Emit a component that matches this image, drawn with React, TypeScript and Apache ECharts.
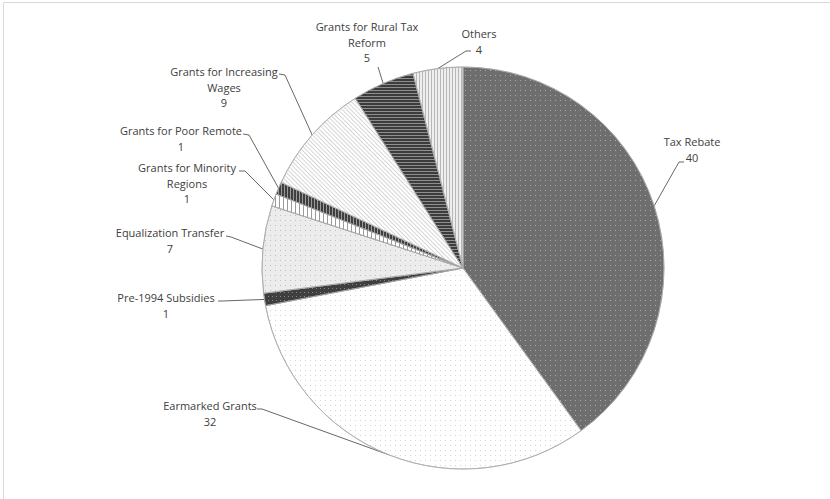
import React, { useEffect, useRef } from "react";
import * as echarts from "echarts";

const categories = [
  "Tax Rebate",
  "Earmarked Grants",
  "Pre-1994 Subsidies",
  "Equalization Transfer",
  "Grants for Minority Regions",
  "Grants for Poor Remote",
  "Grants for Increasing Wages",
  "Grants for Rural Tax Reform",
  "Others",
];
const labelTexts = [
  "Tax Rebate",
  "Earmarked Grants",
  "Pre-1994 Subsidies",
  "Equalization Transfer",
  "Grants for Minority\nRegions",
  "Grants for Poor Remote",
  "Grants for Increasing\nWages",
  "Grants for Rural Tax\nReform",
  "Others",
];
const values = [40, 32, 1, 7, 1, 1, 9, 5, 4];

// label layout: [centerX, topY] and leader line ends [[bendX, bendY], [endX, endY]]
const labelPos = [
  [692, 134],
  [210, 398],
  [166, 290],
  [170, 225],
  [187, 160],
  [181, 123],
  [224, 64],
  [367, 19],
  [479, 26],
];
const leaderEnds = [
  [[679, 162], [684, 162]],
  [[262, 409], [257, 409]],
  [[222, 301], [218, 301]],
  [[231, 237], [226, 236]],
  [[245, 171], [239, 171]],
  [[249, 135], [243, 134]],
  [[285, 75], [279, 74]],
  [[378, 67], [378, 67]],
  [[466, 51], [471, 51]],
];

const dots = (bg: string, fg: string, gap = 4) => ({
  color: bg,
  decal: {
    symbol: "rect",
    symbolSize: 1,
    color: fg,
    dashArrayX: [1, gap],
    dashArrayY: [1, gap],
    rotation: 0,
  },
});
const lines = (bg: string, fg: string, w: number, gap: number, rot: number) => ({
  color: bg,
  decal: {
    symbol: "rect",
    symbolSize: 1,
    color: fg,
    dashArrayX: [1, 0],
    dashArrayY: [w, gap],
    rotation: rot,
  },
});

const styles = [
  dots("#6e6e6e", "#a8a8a8", 4),
  dots("#ffffff", "#d4d4d4", 4),
  dots("#3f3f3f", "#858585", 3),
  dots("#ececec", "#bdbdbd", 4),
  lines("#ffffff", "#9a9a9a", 1, 3, Math.PI / 2),
  lines("#3f3f3f", "#9a9a9a", 1, 2, Math.PI / 2),
  lines("#ffffff", "#d6d6d6", 1, 2, Math.PI / 4),
  lines("#3c3c3c", "#8e8e8e", 1, 2, 0),
  lines("#eeeeee", "#b8b8b8", 1, 2, Math.PI / 2),
];

export default function App() {
  const ref = useRef<HTMLDivElement>(null);
  useEffect(() => {
    if (!ref.current) return;
    const chart = echarts.init(ref.current, undefined, { renderer: "svg" });
    chart.setOption({
      animation: false,
      backgroundColor: "#ffffff",
      graphic: [
        {
          type: "rect",
          shape: { x: 3.5, y: 2.5, width: 1000, height: 1000 },
          style: { fill: "none", stroke: "#d9d9d9", lineWidth: 1 },
          silent: true,
        },
      ],
      series: [
        {
          type: "pie",
          center: [463, 268],
          radius: 201,
          startAngle: 90,
          clockwise: true,
          avoidLabelOverlap: false,
          label: {
            show: true,
            position: "outside",
            formatter: (p: any) => `${labelTexts[p.dataIndex]}\n${p.value}`,
            fontFamily: "Open Sans",
            fontSize: 11,
            lineHeight: 15.5,
            color: "#404040",
            align: "center",
          },
          labelLine: {
            show: true,
            smooth: false,
            lineStyle: { color: "#404040", width: 0.8 },
          },
          labelLayout: (params: any) => {
            const i = params.dataIndex;
            const p0 = params.labelLinePoints ? params.labelLinePoints[0] : leaderEnds[i][0];
            return {
              x: labelPos[i][0],
              y: labelPos[i][1],
              align: "center",
              verticalAlign: "top",
              hideOverlap: false,
              labelLinePoints: [p0, leaderEnds[i][0], leaderEnds[i][1]],
            };
          },
          data: categories.map((name, i) => ({
            name,
            value: values[i],
            itemStyle: { ...styles[i], borderColor: "#a8a8a8", borderWidth: 0.75 },
          })),
        },
      ],
    });
    return () => chart.dispose();
  }, []);
  return (
    <div
      ref={ref}
      style={{ position: "absolute", left: 0, top: 0, width: 830, height: 499 }}
    />
  );
}
